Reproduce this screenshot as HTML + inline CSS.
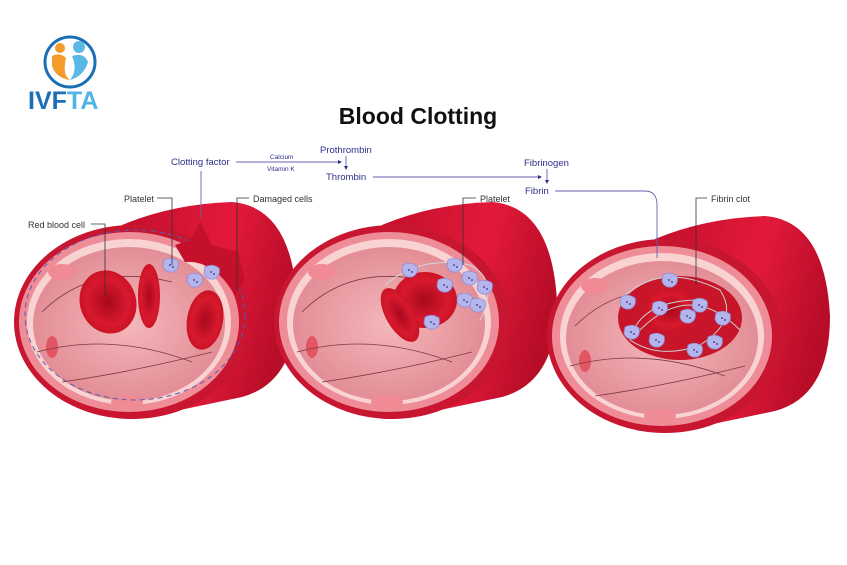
<!DOCTYPE html>
<html><head><meta charset="utf-8"><style>
html,body{margin:0;padding:0;background:#fff;}
svg{display:block;font-family:"Liberation Sans",sans-serif;}
</style></head><body>
<svg width="847" height="565" viewBox="0 0 847 565" xmlns="http://www.w3.org/2000/svg">
<defs>
<linearGradient id="body" x1="0" y1="0" x2="1" y2="0.3"><stop offset="0" stop-color="#c20f2c"/><stop offset="0.6" stop-color="#e3193b"/><stop offset="1" stop-color="#b80d28"/></linearGradient>
<radialGradient id="inner" cx="0.5" cy="0.5" r="0.6"><stop offset="0" stop-color="#f4b7ba"/><stop offset="1" stop-color="#e0858f"/></radialGradient>
<radialGradient id="rbc" cx="0.5" cy="0.5" r="0.6"><stop offset="0" stop-color="#a8081c"/><stop offset="0.6" stop-color="#d8192e"/><stop offset="1" stop-color="#c0101f"/></radialGradient>
<g id="vessel">
  <path d="M-10,-97 Q40,-118 100,-120 Q160,-115 165,-20 Q165,60 110,75 L10,96 Z" fill="url(#body)"/>
  <ellipse cx="0" cy="0" rx="118" ry="97" fill="#c81530"/>
  <ellipse cx="-3" cy="0" rx="110" ry="90" fill="#ee8d98"/>
  <ellipse cx="-3" cy="0" rx="102" ry="83" fill="#f8d3d2"/>
  <ellipse cx="-3" cy="2" rx="96" ry="77" fill="url(#inner)"/>
  <ellipse cx="-70" cy="-50" rx="14" ry="8" fill="#f08a94"/>
  <ellipse cx="-5" cy="80" rx="16" ry="7" fill="#f08a94"/>
  <ellipse cx="-80" cy="25" rx="6" ry="11" fill="#e25563"/>
  <path d="M-90,-10 Q-40,-60 40,-40 M-95,30 Q-20,10 60,40 M-70,60 Q0,50 80,30" stroke="#7a3a40" stroke-width="0.8" fill="none"/>
</g>
<g id="plt"><path d="M-7,-5 Q0,-9 7,-4 Q9,4 2,7 Q-6,8 -8,1 Z" fill="#b5b5ec" stroke="#8c8cd8" stroke-width="0.8"/><circle cx="-1" cy="0" r="1" fill="#5050a0"/><circle cx="2" cy="2" r="1" fill="#5050a0"/></g>
</defs>

<!-- logo -->
<circle cx="70" cy="62" r="25" fill="none" stroke="#1a6fb5" stroke-width="3"/>
<circle cx="60" cy="48" r="5" fill="#f39b2c"/><circle cx="79" cy="47" r="6" fill="#5ab8e6"/>
<path d="M52,56 Q60,52 66,58 Q62,75 70,80 Q56,78 52,66Z" fill="#f39b2c"/>
<path d="M72,56 Q84,52 88,62 Q84,76 70,80 Q78,70 72,56Z" fill="#5ab8e6"/>
<text x="28" y="109" font-size="25" font-weight="bold" fill="#1a6fb5">IVF<tspan fill="#4fb5e6">TA</tspan></text>

<text x="418" y="124" font-size="23" font-weight="bold" fill="#111" text-anchor="middle">Blood Clotting</text>

<!-- vessels -->
<use href="#vessel" x="132" y="322"/>
<use href="#vessel" x="392" y="322"/>
<use href="#vessel" x="665" y="336"/>

<!-- vessel 1 contents -->
<ellipse cx="135" cy="315" rx="110" ry="85" fill="none" stroke="#5a5ab0" stroke-width="1" stroke-dasharray="5,4"/>
<path d="M175,245 L190,240 L200,222 L212,245 L238,252 L245,280 L235,296 Q215,260 185,262 Z" fill="#c5102c"/>
<ellipse cx="108" cy="302" rx="28" ry="32" transform="rotate(-20 108 302)" fill="url(#rbc)"/>
<ellipse cx="149" cy="296" rx="11" ry="32" fill="url(#rbc)"/>
<ellipse cx="205" cy="320" rx="18" ry="30" transform="rotate(10 205 320)" fill="url(#rbc)"/>
<use href="#plt" x="171" y="265"/><use href="#plt" x="195" y="280"/><use href="#plt" x="212" y="272"/>

<!-- vessel 2 contents -->
<ellipse cx="425" cy="300" rx="32" ry="28" fill="url(#rbc)"/>
<ellipse cx="400" cy="315" rx="14" ry="30" transform="rotate(-30 400 315)" fill="url(#rbc)"/>
<path d="M385,285 Q420,255 470,265 Q500,280 480,320" stroke="#cfd8d8" fill="none"/>
<use href="#plt" x="455" y="265"/><use href="#plt" x="470" y="278"/><use href="#plt" x="432" y="322"/><use href="#plt" x="465" y="300"/><use href="#plt" x="445" y="285"/><use href="#plt" x="478" y="305"/><use href="#plt" x="410" y="270"/><use href="#plt" x="485" y="287"/>

<!-- vessel 3 contents -->
<ellipse cx="680" cy="318" rx="62" ry="42" fill="#c8152a"/>
<ellipse cx="670" cy="310" rx="25" ry="22" fill="url(#rbc)"/>
<path d="M620,300 Q660,260 720,290 Q740,320 700,345 Q660,360 630,340 Q640,300 700,300 M640,330 Q690,280 740,330" stroke="#c9d4d4" stroke-width="1" fill="none"/>
<use href="#plt" x="628" y="302"/><use href="#plt" x="660" y="308"/><use href="#plt" x="688" y="316"/><use href="#plt" x="700" y="305"/><use href="#plt" x="723" y="318"/><use href="#plt" x="657" y="340"/><use href="#plt" x="695" y="350"/><use href="#plt" x="715" y="342"/><use href="#plt" x="632" y="332"/><use href="#plt" x="670" y="280"/>

<!-- labels -->
<g font-size="9" fill="#333">
<text x="28" y="228">Red blood cell</text>
<text x="124" y="202">Platelet</text>
<text x="253" y="202">Damaged cells</text>
<text x="480" y="202">Platelet</text>
<text x="711" y="202">Fibrin clot</text>
</g>
<g stroke="#333" stroke-width="0.8" fill="none">
<path d="M91,224 H105 V297"/>
<path d="M157,198 H172 V265"/>
<path d="M249,198 H237 V290"/>
<path d="M476,198 H463 V265"/>
<path d="M707,198 H696 V285"/>
</g>
<g fill="#2e2e8a">
<text x="171" y="165" font-size="9.5">Clotting factor</text>
<text x="270" y="159" font-size="6.5">Calcium</text>
<text x="267" y="171" font-size="6.5">Vitamin K</text>
<text x="320" y="153" font-size="9.5">Prothrombin</text>
<text x="326" y="180" font-size="9.5">Thrombin</text>
<text x="524" y="166" font-size="9.5">Fibrinogen</text>
<text x="525" y="194" font-size="9.5">Fibrin</text>
</g>
<g stroke="#6464b0" stroke-width="0.9" fill="none">
<path d="M236,162 H338"/><path d="M373,177 H538"/>
<path d="M201,171 V218"/>
<path d="M555,191 H645 Q657,191 657,205 V258"/>
<path d="M346,156 V167"/><path d="M547,169 V181"/>
</g>
<g fill="#2e2e8a">
<path d="M338,160 L342,162 L338,164Z"/><path d="M538,175 L542,177 L538,179Z"/>
<path d="M344,166 L346,170 L348,166Z"/><path d="M545,180 L547,184 L549,180Z"/>
</g>
</svg>
</body></html>
